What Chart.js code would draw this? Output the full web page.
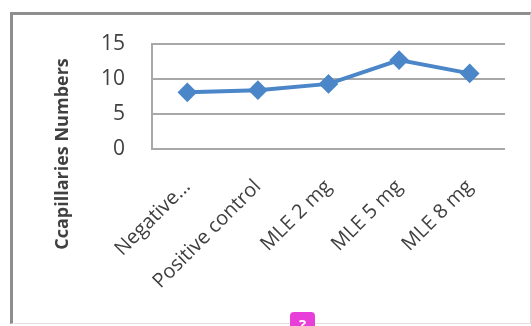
<!DOCTYPE html>
<html>
<head>
<meta charset="utf-8">
<script src="https://cdn.jsdelivr.net/npm/chart.js@4/dist/chart.umd.min.js"></script>
<style>
  body { margin: 0; background: #fff; }
  #wrap { position: relative; width: 531px; height: 326px; overflow: hidden; }
  #frame { position: absolute; left: 10px; top: 12px; width: 517px; height: 308px;
           border-top: 3px solid #8e8e8e; border-left: 3px solid #8e8e8e;
           border-right: 1px solid #d8d8d8; border-bottom: 1px solid #e0e0e0; }
  #badge { position: absolute; left: 290px; top: 312px; width: 25px; height: 22px;
           background: #e83fd9; border-radius: 4px; color: #fff; font: bold 15px "Open Sans";
           text-align: center; line-height: 24px; }
  canvas { position: absolute; left: 0; top: 0; }
</style>
</head>
<body>
<div id="wrap">
  <div id="frame"></div>
  <canvas id="lineChart" width="531" height="326"></canvas>
  <div id="badge">?</div>
</div>
<script>
let categories = ['Negative...', 'Positive control', 'MLE 2 mg', 'MLE 5 mg', 'MLE 8 mg'];
let capillaries = [8.1, 8.4, 9.3, 12.7, 10.8];
let yTicks = [0, 5, 10, 15];
let yTitle = 'Ccapillaries Numbers';

// y title is centred on the whole frame, not on the plot area
let yTitlePlugin = {
  id: 'yTitle',
  afterDraw(chart) {
    let ctx = chart.ctx;
    ctx.save();
    ctx.translate(63, 154);
    ctx.rotate(-Math.PI / 2);
    ctx.font = 'bold 18px "Open Sans"';
    ctx.fillStyle = '#404040';
    ctx.textAlign = 'center';
    ctx.textBaseline = 'middle';
    ctx.fillText(yTitle, 0, 0);
    ctx.restore();
  }
};

let chartformat = {};
chartformat.type = 'line';
chartformat.data = {
  labels: categories,
  datasets: [{
    data: capillaries,
    borderColor: '#4a86c8',
    backgroundColor: '#4a86c8',
    borderWidth: 4,
    pointStyle: 'rectRot',
    pointRadius: 7,
    pointHoverRadius: 7,
    tension: 0
  }]
};

let options = chartformat.options = {};
options.responsive = false;
options.animation = false;
options.layout = { padding: { left: 0, top: 44, right: 26, bottom: 0 } };
options.plugins = { legend: { display: false }, tooltip: { enabled: false } };
options.scales = {
  x: {
    offset: true,
    grid: { display: false, drawTicks: false },
    border: { display: false },
    ticks: {
      color: '#404040',
      font: { family: 'Open Sans', size: 20 },
      minRotation: 45, maxRotation: 45,
      padding: 26
    },
    afterFit(scale) { scale.height = 326 - 149; }
  },
  y: {
    min: 0, max: 15,
    afterBuildTicks(scale) { scale.ticks = yTicks.map(v => ({ value: v })); },
    grid: { color: '#a8a8a8', lineWidth: 2, drawTicks: false },
    border: { display: true, color: '#a8a8a8', width: 2 },
    ticks: {
      color: '#404040',
      font: { family: 'Open Sans', size: 21 },
      padding: 27
    },
    afterFit(scale) { scale.width = 152; }
  }
};
chartformat.plugins = [yTitlePlugin];

new Chart(document.getElementById('lineChart'), chartformat);
</script>
</body>
</html>
